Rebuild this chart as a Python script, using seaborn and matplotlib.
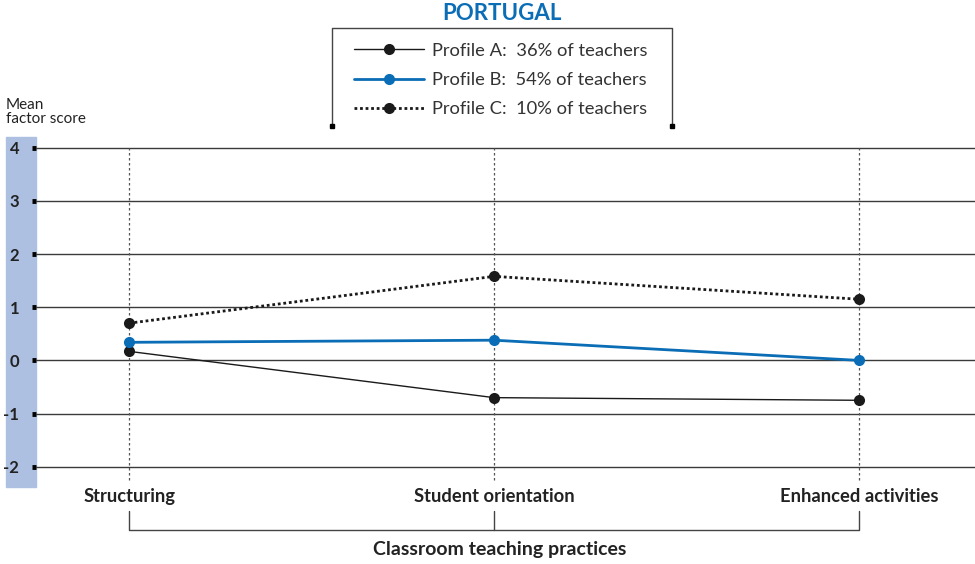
import matplotlib
matplotlib.use("Agg")
import matplotlib.pyplot as plt
import pandas as pd
import seaborn as sns
from matplotlib.lines import Line2D
from matplotlib.patches import Rectangle

# =========================
# data
# =========================
practices = ["Structuring", "Student orientation", "Enhanced activities"]
profiles = ["Profile A", "Profile B", "Profile C"]
shares = ["36%", "54%", "10%"]
profile_a = [0.17, -0.70, -0.75]
profile_b = [0.34, 0.38, 0.00]
profile_c = [0.70, 1.58, 1.15]
y_ticks = [-2, -1, 0, 1, 2, 3, 4]

df = pd.DataFrame({
    "practice": practices * 3,
    "profile": [p for p in profiles for _ in practices],
    "score": profile_a + profile_b + profile_c,
})

BLUE = "#0a6db5"
styles = {
    "Profile A": dict(color="#1a1a1a", lw=1.0, ls="-"),
    "Profile B": dict(color=BLUE, lw=2.0, ls="-"),
    "Profile C": dict(color="#1a1a1a", lw=2.0, ls=(0, (1, 1))),
}

sns.set_theme(style="white")
plt.rcParams["font.family"] = ["Lato", "DejaVu Sans"]

W, H = 975, 564
fig = plt.figure(figsize=(W / 100, H / 100), dpi=100)
ax = fig.add_axes([36 / W, 1 - 487 / H, 1 - 36 / W, 350 / H])

# blue band behind the y tick labels
fig.add_artist(Rectangle((6 / W, 1 - 487 / H), 30 / W, 350 / H,
                         transform=fig.transFigure, color="#adc0e1", zorder=0))

ax.set_ylim(-2.38, 4.2)
ax.set_xlim(-0.255, 2.318)

for y in y_ticks:
    ax.axhline(y, color="#3a3a3a", lw=1.0, zorder=1)
for i in range(len(practices)):
    ax.vlines(i, -2.25, 4, colors="#555555", lw=0.9, linestyles=(0, (2, 2)), zorder=1)

for p in profiles:
    s = styles[p]
    sns.lineplot(data=df[df["profile"] == p], x="practice", y="score", ax=ax,
                 color=s["color"], linewidth=s["lw"], linestyle=s["ls"],
                 marker="o", markersize=8, markeredgewidth=0,
                 markerfacecolor=s["color"], sort=False, zorder=3)

for sp in ax.spines.values():
    sp.set_visible(False)
ax.set_yticks(y_ticks)
ax.set_yticklabels([str(t) for t in y_ticks], fontweight="bold", fontsize=12,
                   color="#222222")
ax.tick_params(axis="y", direction="out", length=3, width=3.5, color="black", pad=9,
               left=True)
ax.tick_params(axis="x", length=0, pad=1)
for lab in ax.get_xticklabels():
    lab.set_fontweight("bold")
    lab.set_fontsize(13.2)
    lab.set_color("#222222")
ax.set_xlabel("")
ax.set_ylabel("")
ax.set_facecolor("none")

# bracket under the categories
ax.plot([0, 0, 2, 2], [-2.84, -3.18, -3.18, -2.84], color="#444444", lw=1.0,
        clip_on=False)
ax.plot([1, 1], [-2.84, -3.18], color="#444444", lw=1.0, clip_on=False)

fig.text(500 / W, 1 - 549 / H, "Classroom teaching practices", ha="center",
         va="center", fontweight="bold", fontsize=14, color="#222222")
fig.text(6 / W, 1 - 112 / H, "Mean\nfactor score", ha="left", va="center",
         fontsize=11, color="#222222", linespacing=1.0)

# title and legend box
fig.text(502 / W, 1 - 14 / H, "PORTUGAL", ha="center", va="center",
         fontweight="bold", fontsize=16, color=BLUE)
box_x = [332 / W, 332 / W, 672 / W, 672 / W]
box_y = [1 - 126 / H, 1 - 28 / H, 1 - 28 / H, 1 - 126 / H]
fig.add_artist(Line2D(box_x, box_y, transform=fig.transFigure, color="#444444", lw=1.0))
fig.add_artist(Line2D([332 / W, 672 / W], [1 - 126 / H, 1 - 126 / H],
                      transform=fig.transFigure, color="black", lw=0,
                      marker="s", markersize=3.5))

handles = [Line2D([0], [0], color=styles[p]["color"], lw=styles[p]["lw"],
                  ls=styles[p]["ls"], marker="o", markersize=8, markeredgewidth=0)
           for p in profiles]
labels = [f"{p}:  {s} of teachers" for p, s in zip(profiles, shares)]
fig.legend(handles, labels, loc="center", bbox_to_anchor=(501 / W, 1 - 80 / H),
           frameon=False, fontsize=13.2, handlelength=3.8, handletextpad=0.45,
           labelspacing=0.72, labelcolor="#333333")

fig.savefig("out.png", dpi=100)
